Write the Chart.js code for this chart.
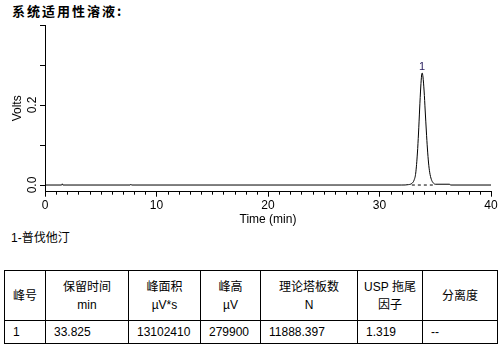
<!DOCTYPE html>
<html><head><meta charset="utf-8">
<script src="https://cdn.jsdelivr.net/npm/chart.js@4/dist/chart.umd.min.js"></script>
<style>
html,body{margin:0;padding:0;background:#fff;width:504px;height:361px;overflow:hidden;position:relative;font-family:"Liberation Sans","Noto Sans CJK SC",sans-serif;}
#title{position:absolute;left:12px;top:3px;font-weight:bold;font-size:13px;letter-spacing:2px;color:#000;font-family:"Noto Sans CJK SC",sans-serif;line-height:16px;}
#cv{position:absolute;left:0;top:0;}
#legend{position:absolute;left:11px;top:230px;font-size:12px;line-height:16px;color:#000;}
table{position:absolute;left:4px;top:270px;border-collapse:collapse;font-size:12px;color:#000;}
td{border:1px solid #000;padding:0 0 0 8px;text-align:left;vertical-align:middle;}
tr.h td{height:49px;text-align:center;padding:0;line-height:18px;}
tr.b td{height:22px;}
</style></head><body>
<div id="title">系统适用性溶液:</div>
<canvas id="cv" width="504" height="230"></canvas>
<div id="legend">1-普伐他汀</div>
<table>
<tr class="h"><td style="width:40px">峰号</td><td style="width:82px">保留时间<br>min</td><td style="width:71px">峰面积<br>µV*s</td><td style="width:59px">峰高<br>µV</td><td style="width:96px">理论塔板数<br>N</td><td style="width:64px">USP 拖尾<br>因子</td><td style="width:74px">分离度</td></tr>
<tr class="b"><td>1</td><td>33.825</td><td>13102410</td><td>279900</td><td>11888.397</td><td>1.319</td><td>--</td></tr>
</table>
<script>
// chromatogram trace (time in min, signal in Volts)
const times = [0, 1.5, 1.55, 1.6, 7.65, 7.7, 7.75, 32.0, 32.6, 32.9, 33.1, 33.25, 33.4, 33.5, 33.6, 33.7, 33.78, 33.825, 33.9, 34.0, 34.1, 34.2, 34.3, 34.4, 34.5, 34.65, 34.8, 35.0, 36.3, 36.35, 40];
const volts = [0, 0, 0.003, 0, 0, 0.002, 0, 0, 0.001, 0.004, 0.012, 0.03, 0.08, 0.13, 0.19, 0.245, 0.275, 0.2799, 0.27, 0.235, 0.185, 0.135, 0.09, 0.055, 0.032, 0.014, 0.006, 0.002, 0.002, 0, 0];
// peak baseline (dashed)
const baseTimes = [32.9, 34.8];
const baseVolts = [0, 0];
// peak annotation
const peakNames = ['1'];
const peakTimes = [33.825];
const peakHeights = [0.2799];
// axis ticks
const xTicks = [0, 10, 20, 30, 40];
const xMinorTicks = Array.from({length: 41}, (_, i) => i).filter(v => v % 10 !== 0);
const yTicks = [0, 0.1, 0.2, 0.3, 0.4];
const yLabelTicks = [0, 0.2];

const trace = times.map((t, i) => ({x: t, y: volts[i]}));
const base = baseTimes.map((t, i) => ({x: t, y: baseVolts[i]}));

const extras = {
  id: 'extras',
  afterDraw(chart) {
    const ctx = chart.ctx, xs = chart.scales.x, ys = chart.scales.y;
    ctx.save();
    ctx.strokeStyle = '#000'; ctx.lineWidth = 1;
    // minor x ticks
    xMinorTicks.forEach(v => {
      const px = Math.round(xs.getPixelForValue(v)) + 0.5;
      ctx.beginPath(); ctx.moveTo(px, xs.top); ctx.lineTo(px, xs.top + 3); ctx.stroke();
    });
    // rotated y labels
    ctx.fillStyle = '#000';
    ctx.font = '12px "Liberation Sans", Arial, sans-serif';
    ctx.textAlign = 'center'; ctx.textBaseline = 'middle';
    yLabelTicks.forEach(v => {
      const py = ys.getPixelForValue(v);
      ctx.save(); ctx.translate(33, py); ctx.rotate(-Math.PI / 2);
      ctx.fillText(v.toFixed(1), 0, 0); ctx.restore();
    });
    // peak labels
    ctx.fillStyle = '#2a2060';
    ctx.font = '11px "Liberation Sans", Arial, sans-serif';
    ctx.textBaseline = 'alphabetic';
    peakNames.forEach((n, i) => {
      ctx.fillText(n, xs.getPixelForValue(peakTimes[i]), ys.getPixelForValue(peakHeights[i]) - 3);
    });
    ctx.restore();
  }
};

new Chart(document.getElementById('cv'), {
  type: 'line',
  data: {
    datasets: [
      {data: trace, borderColor: '#000', borderWidth: 1, pointRadius: 0, cubicInterpolationMode: 'monotone', fill: false},
      {data: base, borderColor: '#000', borderWidth: 1, borderDash: [3, 3], pointRadius: 0, fill: false}
    ]
  },
  options: {
    responsive: false, animation: false, devicePixelRatio: 1,
    layout: {padding: {top: 25, right: 13, left: 0, bottom: 0}},
    plugins: {legend: {display: false}, tooltip: {enabled: false}},
    scales: {
      x: {
        type: 'linear', min: 0, max: 40,
        afterBuildTicks: s => { s.ticks = xTicks.map(v => ({value: v})); },
        afterFit: s => { s.height = 38.3; },
        grid: {drawOnChartArea: false, drawTicks: true, tickLength: 5, tickColor: '#000'},
        border: {color: '#000', width: 1},
        ticks: {color: '#000', font: {size: 12, family: '"Liberation Sans", Arial'}, padding: 2, maxRotation: 0},
        title: {display: true, text: 'Time (min)', color: '#000', font: {size: 12, family: '"Liberation Sans", Arial'}, padding: {top: 0, bottom: 3}}
      },
      y: {
        type: 'linear', min: -0.0167, max: 0.4,
        afterBuildTicks: s => { s.ticks = yTicks.map(v => ({value: v})); },
        afterFit: s => { s.width = 45; },
        grid: {drawOnChartArea: false, drawTicks: true, tickLength: 5, tickColor: '#000'},
        border: {color: '#000', width: 1},
        ticks: {callback: () => '', padding: 0},
        title: {display: true, text: 'Volts', color: '#000', font: {size: 12, family: '"Liberation Sans", Arial'}, padding: {top: 10, bottom: 0}}
      }
    }
  },
  plugins: [extras]
});
</script>
</body></html>
